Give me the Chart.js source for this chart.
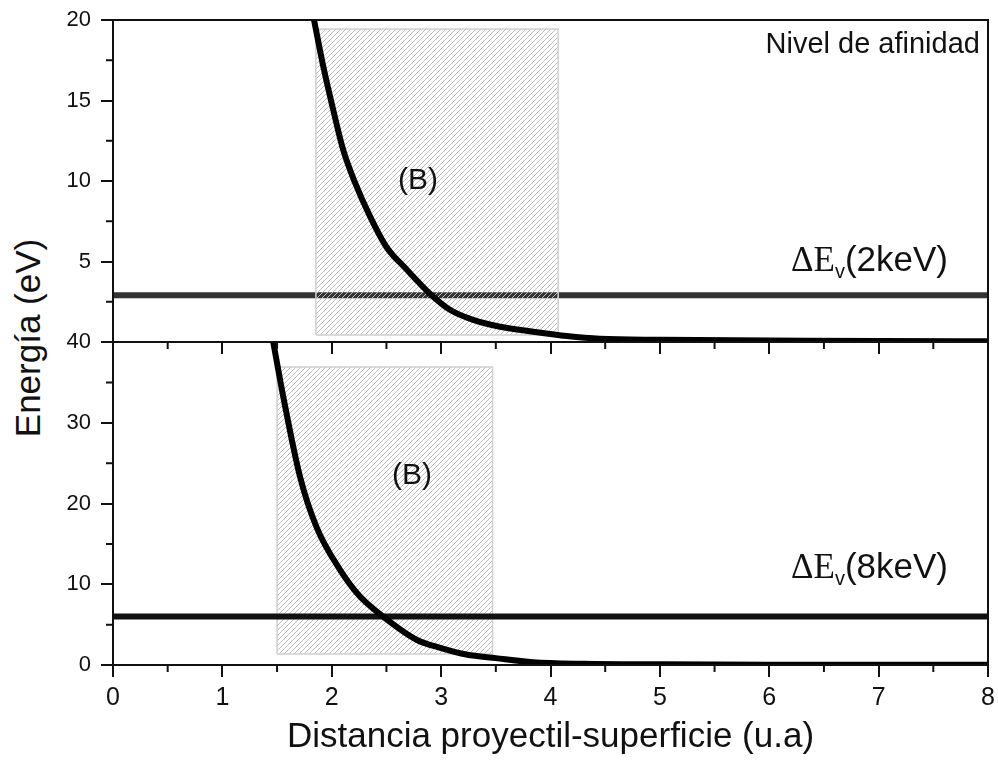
<!DOCTYPE html>
<html>
<head>
<meta charset="utf-8">
<title>Energía vs distancia</title>
<script src="https://cdn.jsdelivr.net/npm/chart.js@4.4.0/dist/chart.umd.min.js"></script>
<style>
body{margin:0;background:#fff;}
#wrap{position:relative;width:998px;height:761px;overflow:hidden;}
#topCanvas{position:absolute;left:0;top:0;z-index:2;}
#botCanvas{position:absolute;left:0;top:328px;z-index:1;}
#ytitle{position:absolute;left:28px;top:338px;transform:translate(-50%,-50%) rotate(-90deg);
  font:35px "Liberation Sans",Arial,sans-serif;color:#111;white-space:nowrap;}
</style>
</head>
<body>
<div id="wrap">
  <canvas id="topCanvas" width="998" height="360"></canvas>
  <canvas id="botCanvas" width="998" height="433"></canvas>
  <div id="ytitle">Energía (eV)</div>
</div>
<script>
// ---- data ----
var xMinor = [0.5, 1.5, 2.5, 3.5, 4.5, 5.5, 6.5, 7.5];

// top panel (2 keV)
var topDist   = [1.75, 1.838, 1.923, 2.014, 2.106, 2.213, 2.35, 2.50, 2.685, 2.898, 3.081, 3.294, 3.538, 3.843, 4.148, 4.453, 5.00, 6.00, 7.00, 8.00];
var topEnergy = [23.0, 20.0,  17.1,  14.4,  11.9,  9.9,   7.8,  5.9,  4.5,   3.0,   2.0,   1.37,  0.95,  0.64,  0.37,  0.20,  0.14, 0.10, 0.06, 0.04];
var topLevel  = 2.9;               // ΔEv(2keV)
var topZoneX  = [1.855, 4.07];     // (B) region
var topZoneY  = [0.43, 19.44];
var topMinorY = [2.5, 7.5, 12.5, 17.5];

// bottom panel (8 keV)
var botDist   = [1.40, 1.465, 1.557, 1.71, 1.86, 2.07, 2.25, 2.47, 2.78, 3.00, 3.23, 3.50, 3.84, 4.30, 5.00, 6.00, 8.00];
var botEnergy = [44.9, 40.0,  33.2,  23.3, 17.1, 11.9, 8.6,  6.0,  3.1,  2.1,  1.30, 0.85, 0.35, 0.15, 0.08, 0.04, 0.02];
var botLevel  = 6.0;               // ΔEv(8keV)
var botZoneX  = [1.5, 3.47];
var botZoneY  = [1.36, 36.9];
var botMinorY = [5, 15, 25, 35];

var SANS = '"Liberation Sans", Arial, sans-serif';
var SERIF = '"Liberation Serif", "Times New Roman", serif';
Chart.defaults.font.family = SANS;
Chart.defaults.color = '#111';

function pairs(xs, ys) {
    var out = [];
    for (var i = 0; i < xs.length; i++) out.push({x: xs[i], y: ys[i]});
    return out;
}
function zone(xr, yr) {
    return [{x: xr[0], y: yr[0]}, {x: xr[0], y: yr[1]}, {x: xr[1], y: yr[1]}, {x: xr[1], y: yr[0]}, {x: xr[0], y: yr[0]}];
}
function hatch() {
    var c = document.createElement('canvas');
    c.width = 5; c.height = 5;
    var g = c.getContext('2d');
    g.strokeStyle = '#bdbdbd';
    g.lineWidth = 1;
    g.beginPath();
    g.moveTo(0, 5); g.lineTo(5, 0);
    g.moveTo(-1, 1); g.lineTo(1, -1);
    g.moveTo(4, 6); g.lineTo(6, 4);
    g.stroke();
    return g.createPattern(c, 'repeat');
}

// frame + minor ticks
var frame = {
    id: 'frame',
    afterDraw: function(chart, args, opts) {
        var ctx = chart.ctx, a = chart.chartArea;
        var xs = chart.scales.x, ys = chart.scales.y;
        ctx.save();
        ctx.strokeStyle = '#111';
        ctx.lineWidth = 2;
        ctx.beginPath();
        xMinor.forEach(function(v) {
            var px = xs.getPixelForValue(v);
            ctx.moveTo(px, a.bottom); ctx.lineTo(px, a.bottom + 7);
        });
        opts.minorY.forEach(function(v) {
            var py = ys.getPixelForValue(v);
            ctx.moveTo(a.left, py); ctx.lineTo(a.left - 7, py);
        });
        ctx.stroke();
        ctx.strokeRect(a.left, a.top, a.right - a.left, a.bottom - a.top);
        ctx.restore();
    }
};

// text notes placed in data coordinates
var notes = {
    id: 'notes',
    afterDatasetsDraw: function(chart, args, opts) {
        var ctx = chart.ctx, xs = chart.scales.x, ys = chart.scales.y;
        ctx.save();
        ctx.fillStyle = '#111';
        ctx.textBaseline = 'alphabetic';
        ctx.textAlign = 'left';
        opts.items.forEach(function(it) {
            var w = 0;
            it.parts.forEach(function(p) { ctx.font = p.font; w += ctx.measureText(p.text).width; });
            var px = xs.getPixelForValue(it.x), py = ys.getPixelForValue(it.y);
            var start = it.align === 'right' ? px - w : (it.align === 'center' ? px - w / 2 : px);
            it.parts.forEach(function(p) {
                ctx.font = p.font;
                ctx.fillText(p.text, start, py + (p.dy || 0));
                start += ctx.measureText(p.text).width;
            });
        });
        ctx.restore();
    }
};

function gridOpts() {
    return {drawOnChartArea: false, drawTicks: true, tickLength: 12, color: '#111', lineWidth: 2, tickWidth: 2};
}
// fixed axis boxes so both panels line up
function fixX(h) {
    return function(s) { s.height = h; s.paddingLeft = 0; s.paddingRight = 0; };
}
function fixY(s) { s.width = 113; s.paddingTop = 0; s.paddingBottom = 0; }

var pat = hatch();

// ---- top panel ----
new Chart(document.getElementById('topCanvas'), {
    type: 'line',
    plugins: [frame, notes],
    data: {
        datasets: [
            {data: pairs(topDist, topEnergy), borderColor: '#000', borderWidth: 6, pointRadius: 0,
             cubicInterpolationMode: 'monotone', fill: false, order: 0},
            {data: zone(topZoneX, topZoneY), borderColor: '#d0d0d0', borderWidth: 1.5, pointRadius: 0,
             backgroundColor: pat, fill: 'shape', tension: 0, order: 1},
            {data: pairs([0, 8], [topLevel, topLevel]), borderColor: '#333', borderWidth: 6, pointRadius: 0,
             fill: false, order: 2}
        ]
    },
    options: {
        responsive: false,
        animation: false,
        layout: {padding: {top: 20, right: 10, left: 0, bottom: 0}},
        plugins: {
            legend: {display: false},
            tooltip: {enabled: false},
            frame: {minorY: topMinorY},
            notes: {items: [
                {x: 7.926, y: 17.95, align: 'right', parts: [{text: 'Nivel de afinidad', font: '29px ' + SANS}]},
                {x: 7.634, y: 4.41, align: 'right', parts: [
                    {text: 'ΔE', font: '35px ' + SERIF},
                    {text: 'v', font: '20px ' + SANS, dy: 7},
                    {text: '(2keV)', font: '35px ' + SANS}]},
                {x: 2.789, y: 9.5, align: 'center', parts: [{text: '(B)', font: '30px ' + SANS}]}
            ]}
        },
        scales: {
            x: {type: 'linear', min: 0, max: 8, border: {display: false}, grid: gridOpts(),
                ticks: {stepSize: 1, callback: function() { return ''; }},
                afterFit: fixX(18)},
            y: {min: 0, max: 20, border: {display: false}, grid: gridOpts(),
                ticks: {stepSize: 5, padding: 10, font: {size: 22},
                        callback: function(v) { return v === 0 ? '' : v; }},
                afterFit: fixY}
        }
    }
});

// ---- bottom panel ----
new Chart(document.getElementById('botCanvas'), {
    type: 'line',
    plugins: [frame, notes],
    data: {
        datasets: [
            {data: pairs(botDist, botEnergy), borderColor: '#000', borderWidth: 6, pointRadius: 0,
             cubicInterpolationMode: 'monotone', fill: false, order: 0},
            {data: pairs([0, 8], [botLevel, botLevel]), borderColor: '#111', borderWidth: 6, pointRadius: 0,
             fill: false, order: 1},
            {data: zone(botZoneX, botZoneY), borderColor: '#d0d0d0', borderWidth: 1.5, pointRadius: 0,
             backgroundColor: pat, fill: 'shape', tension: 0, order: 2}
        ]
    },
    options: {
        responsive: false,
        animation: false,
        layout: {padding: {top: 14, right: 10, left: 0, bottom: 0}},
        plugins: {
            legend: {display: false},
            tooltip: {enabled: false},
            frame: {minorY: botMinorY},
            notes: {items: [
                {x: 7.634, y: 10.77, align: 'right', parts: [
                    {text: 'ΔE', font: '35px ' + SERIF},
                    {text: 'v', font: '20px ' + SANS, dy: 7},
                    {text: '(8keV)', font: '35px ' + SANS}]},
                {x: 2.734, y: 22.4, align: 'center', parts: [{text: '(B)', font: '30px ' + SANS}]}
            ]}
        },
        scales: {
            x: {type: 'linear', min: 0, max: 8, border: {display: false}, grid: gridOpts(),
                ticks: {stepSize: 1, padding: 6, font: {size: 25}},
                title: {display: true, text: 'Distancia proyectil-superficie (u.a)', font: {size: 35},
                        padding: {top: 0, bottom: 3}},
                afterFit: fixX(96)},
            y: {min: 0, max: 40, border: {display: false}, grid: gridOpts(),
                ticks: {stepSize: 10, padding: 10, font: {size: 22}},
                afterFit: fixY}
        }
    }
});
</script>
</body>
</html>
